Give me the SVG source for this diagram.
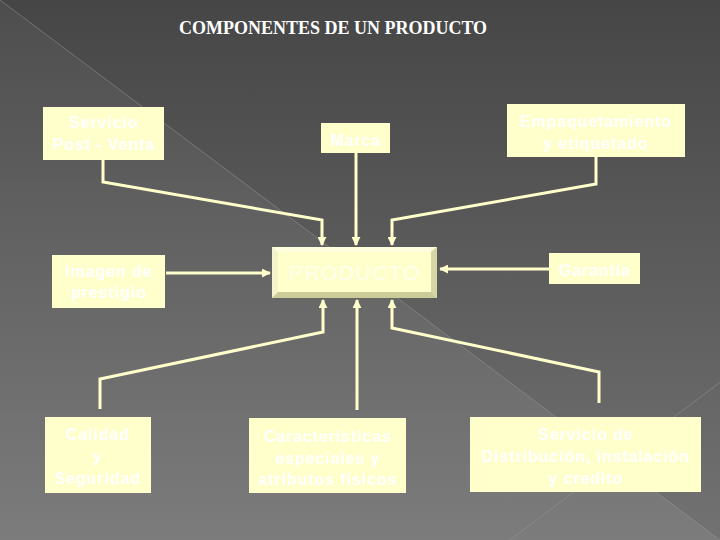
<svg xmlns="http://www.w3.org/2000/svg" width="720" height="540" viewBox="0 0 720 540">
  <defs>
    <linearGradient id="bg" x1="0" y1="0" x2="0" y2="1">
      <stop offset="0" stop-color="#464646"/>
      <stop offset="1" stop-color="#727272"/>
    </linearGradient>
    <linearGradient id="tri" x1="0" y1="0" x2="0" y2="1">
      <stop offset="0" stop-color="#ffffff" stop-opacity="0.04"/>
      <stop offset="1" stop-color="#ffffff" stop-opacity="0.07"/>
    </linearGradient>
    <marker id="ah" viewBox="0 0 10 10" refX="9" refY="5" markerWidth="3" markerHeight="3" orient="auto" markerUnits="strokeWidth">
      <path d="M0,0 L10,5 L0,10 Z" fill="#FFFFCC"/>
    </marker>
  </defs>
  <style>
    .box { fill: #FFFFCC; }
    .lbl { font-family: "Liberation Sans", Arial, sans-serif; font-weight: bold; font-size: 16px; fill: #FFFFFF; text-anchor: middle; letter-spacing: 0.9px; }
    .conn { fill: none; stroke: #FFFFCC; stroke-width: 3; stroke-linejoin: miter; }
    .deco { stroke: #9a9a9a; stroke-width: 1; stroke-opacity: 0.5; fill: none; }
  </style>

  <!-- background -->
  <rect x="0" y="0" width="720" height="540" fill="url(#bg)"/>
  <polygon points="0,0 720,540 0,540" fill="url(#tri)"/>
  <line class="deco" x1="0" y1="0" x2="720" y2="540"/>
  <line class="deco" x1="510" y1="540" x2="720" y2="382.5"/>

  <!-- title -->
  <text x="333" y="34" font-family="'Liberation Serif', 'Times New Roman', serif" font-weight="bold" font-size="18" fill="#FFFFFF" text-anchor="middle">COMPONENTES DE UN PRODUCTO</text>

  <!-- connectors -->
  <g id="connectors">
    <polyline class="conn" points="103,160 103,182 322,220 322,245" marker-end="url(#ah)"/>
    <polyline class="conn" points="356,153 356,245" marker-end="url(#ah)"/>
    <polyline class="conn" points="596,157 596,184 392,220 392,245" marker-end="url(#ah)"/>
    <polyline class="conn" points="166,273 270,273" marker-end="url(#ah)"/>
    <polyline class="conn" points="549,269 440,269" marker-end="url(#ah)"/>
    <polyline class="conn" points="100,409 100,379 323,332 323,300" marker-end="url(#ah)"/>
    <polyline class="conn" points="357,410 357,300" marker-end="url(#ah)"/>
    <polyline class="conn" points="599,403 599,372 392,328 392,300" marker-end="url(#ah)"/>
  </g>

  <!-- nodes -->
  <g id="servicio-postventa">
    <rect class="box" x="43" y="107" width="121" height="53"/>
    <text class="lbl" x="104" y="128">Servicio</text>
    <text class="lbl" x="104" y="150">Post - Venta</text>
  </g>
  <g id="marca">
    <rect class="box" x="321" y="123" width="69" height="30"/>
    <text class="lbl" x="356" y="146">Marca</text>
  </g>
  <g id="empaquetamiento">
    <rect class="box" x="507" y="104" width="178" height="53"/>
    <text class="lbl" x="596" y="127">Empaquetamiento</text>
    <text class="lbl" x="596" y="149">y etiquetado</text>
  </g>
  <g id="imagen">
    <rect class="box" x="52" y="255" width="113" height="53"/>
    <text class="lbl" x="109" y="277">Imagen de</text>
    <text class="lbl" x="109" y="298">prestigio</text>
  </g>
  <g id="producto">
    <rect x="272" y="247" width="165" height="51" fill="#E8E8B8"/>
    <polygon points="272,247 437,247 431,252 278,252" fill="#FFFFE0"/>
    <polygon points="272,247 278,252 278,292 272,298" fill="#F4F4CC"/>
    <polygon points="272,298 278,292 431,292 437,298" fill="#CCCC99"/>
    <polygon points="437,247 437,298 431,292 431,252" fill="#D6D6A6"/>
    <rect x="278" y="252" width="153" height="40" fill="#FFFFCC"/>
    <text x="355" y="280" font-family="'Liberation Sans', Arial, sans-serif" font-size="21" fill="#FFFFEE" text-anchor="middle" letter-spacing="1.5">PRODUCTO</text>
  </g>
  <g id="garantia">
    <rect class="box" x="549" y="253" width="91" height="31"/>
    <text class="lbl" x="595" y="276">Garantía</text>
  </g>
  <g id="calidad">
    <rect class="box" x="45" y="417" width="106" height="76"/>
    <text class="lbl" x="98" y="440">Calidad</text>
    <text class="lbl" x="98" y="462">y</text>
    <text class="lbl" x="98" y="484">Seguridad</text>
  </g>
  <g id="caracteristicas">
    <rect class="box" x="249" y="418" width="157" height="75"/>
    <text class="lbl" x="328" y="442">Características</text>
    <text class="lbl" x="328" y="464">especiales y</text>
    <text class="lbl" x="328" y="485">atributos físicos</text>
  </g>
  <g id="distribucion">
    <rect class="box" x="470" y="417" width="231" height="75"/>
    <text class="lbl" x="586" y="440">Servicio de</text>
    <text class="lbl" x="586" y="462">Distribución, instalación</text>
    <text class="lbl" x="586" y="484">y credito</text>
  </g>
</svg>
